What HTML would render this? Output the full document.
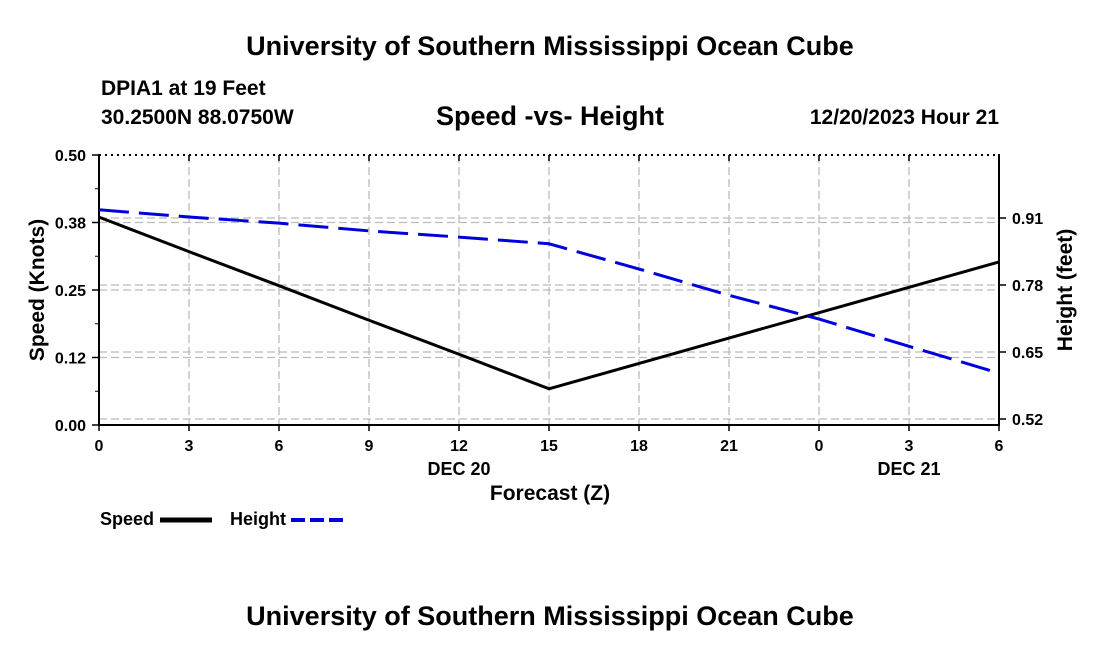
<!DOCTYPE html>
<html><head><meta charset="utf-8"><style>
body{margin:0;background:#fff;width:1100px;height:650px;overflow:hidden}
svg text{font-family:"Liberation Sans",sans-serif;font-weight:bold;fill:#000}
</style></head><body>
<svg id="c" width="1100" height="650">
<text x="550" y="55" font-size="27" text-anchor="middle">University of Southern Mississippi Ocean Cube</text>
<text x="101" y="95" font-size="21">DPIA1 at 19 Feet</text>
<text x="101" y="124" font-size="21">30.2500N  88.0750W</text>
<text x="550" y="125" font-size="27" text-anchor="middle">Speed -vs- Height</text>
<text x="999" y="124" font-size="21" text-anchor="end">12/20/2023 Hour 21</text>
<g id="grid"></g><g id="axes"></g><g id="series"></g>
<text x="550" y="500" font-size="21" text-anchor="middle">Forecast (Z)</text>
<text transform="translate(44,290) rotate(-90)" font-size="21" text-anchor="middle">Speed (Knots)</text>
<text transform="translate(1072,290) rotate(-90)" font-size="21" text-anchor="middle">Height (feet)</text>
<text x="100" y="525" font-size="18">Speed</text>
<line x1="160" y1="520" x2="212" y2="520" stroke="#000" stroke-width="5"/>
<text x="230" y="525" font-size="18">Height</text>
<line x1="291" y1="520" x2="343" y2="520" stroke="#0000dd" stroke-width="4" stroke-dasharray="14,5"/>
<text x="550" y="625" font-size="27" text-anchor="middle">University of Southern Mississippi Ocean Cube</text>
</svg>
<script>
const hours=[0,3,6,9,12,15,18,21,24,27,30];
const xTickLabels=["0","3","6","9","12","15","18","21","0","3","6"];
const speed=[0.385,0.321,0.258,0.194,0.131,0.067,0.114,0.161,0.208,0.255,0.302];
const height=[0.926,0.912,0.900,0.885,0.873,0.860,0.811,0.760,0.714,0.661,0.609];
const leftTicks=[0,0.125,0.25,0.375,0.5];
const leftLabels=["0.00","0.12","0.25","0.38","0.50"];
const rightTicks=[0.52,0.65,0.78,0.91];
const L=99,R=999,T=155,B=425;
const x=h=>L+(h/30)*(R-L);
const yL=v=>B-(v/0.5)*(B-T);
const yR=v=>419-(v-0.52)/0.13*67;
const NS="http://www.w3.org/2000/svg";
function mk(p,t,a){const e=document.createElementNS(NS,t);for(const k in a)e.setAttribute(k,a[k]);document.getElementById(p).appendChild(e);return e;}
const gs={stroke:"#bbb","stroke-width":1.3,"stroke-dasharray":"8,4"};
hours.slice(1,10).forEach(h=>{const e=mk("grid","line",Object.assign({x1:x(h),x2:x(h),y1:T,y2:B},gs));

});
leftTicks.slice(1,4).forEach(v=>{const e=mk("grid","line",Object.assign({x1:L,x2:R,y1:yL(v),y2:yL(v)},gs));

});
rightTicks.forEach(v=>{const e=mk("grid","line",Object.assign({x1:L,x2:R,y1:yR(v),y2:yR(v)},gs));

});
let e;
e=mk("axes","line",{x1:L,x2:R,y1:T,y2:T,stroke:"#000","stroke-width":2,"stroke-dasharray":"2,4"});

e=mk("axes","path",{d:`M${L},${T-1}V${B}H${R}V${T-1}`,stroke:"#000","stroke-width":2,fill:"none"});

leftTicks.forEach((v,i)=>{mk("axes","line",{x1:L-7,x2:L,y1:yL(v),y2:yL(v),stroke:"#000","stroke-width":1.5});
const t=mk("axes","text",{x:L-13,y:yL(v)+6,"font-size":16,"text-anchor":"end"});t.textContent=leftLabels[i];

});
for(let v=0.0625;v<0.5;v+=0.125)mk("axes","line",{x1:L-4,x2:L,y1:yL(v),y2:yL(v),stroke:"#000","stroke-width":1});
rightTicks.forEach(v=>{mk("axes","line",{x1:R,x2:R+7,y1:yR(v),y2:yR(v),stroke:"#000","stroke-width":1.5});
const t=mk("axes","text",{x:R+13,y:yR(v)+6,"font-size":16});t.textContent=v.toFixed(2);

});
hours.forEach((h,i)=>{mk("axes","line",{x1:x(h),x2:x(h),y1:B,y2:B+6,stroke:"#000","stroke-width":1.5});
mk("axes","line",{x1:x(h),x2:x(h),y1:T,y2:T+6,stroke:"#000","stroke-width":1.5});
const t=mk("axes","text",{x:x(h),y:B+26,"font-size":16,"text-anchor":"middle"});t.textContent=xTickLabels[i];

});
[["DEC 20",12],["DEC 21",27]].forEach(d=>{const t=mk("axes","text",{x:x(d[1]),y:B+50,"font-size":18,"text-anchor":"middle"});t.textContent=d[0];

});
e=mk("series","polyline",{points:hours.map((h,i)=>x(h)+","+yL(speed[i])).join(" "),fill:"none",stroke:"#000","stroke-width":3});

e=mk("series","polyline",{points:hours.map((h,i)=>x(h)+","+yR(height[i])).join(" "),fill:"none",stroke:"#0000dd","stroke-width":3,"stroke-dasharray":"30,10"});

</script>
</body></html>
